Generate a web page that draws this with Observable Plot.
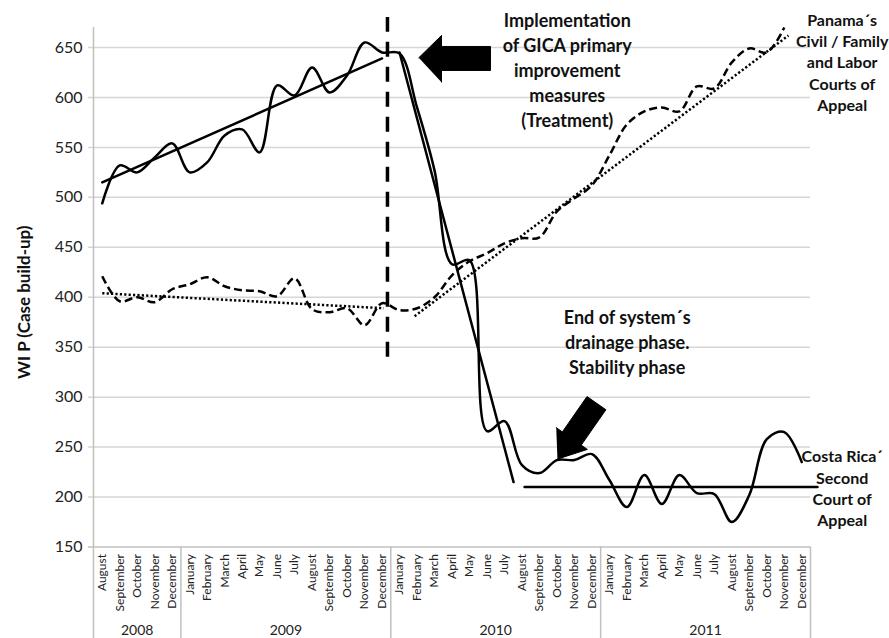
<!DOCTYPE html>
<html><head><meta charset="utf-8">
<script src="https://cdn.jsdelivr.net/npm/d3@7"></script>
<script src="https://cdn.jsdelivr.net/npm/@observablehq/plot@0.6"></script>
<style>body{margin:0;background:#fff;}</style>
</head><body><div id="chart"></div>
<script>
// ---- categories ----
const months = ["August","September","October","November","December",
  "January","February","March","April","May","June","July","August","September","October","November","December",
  "January","February","March","April","May","June","July","August","September","October","November","December",
  "January","February","March","April","May","June","July","August","September","October","November","December"];
const yearLabels = ["2008","2009","2010","2011"];
const yearMonthCounts = [5, 12, 12, 12];
const yTicks = [150,200,250,300,350,400,450,500,550,600,650];

// ---- series (WIP, one value per month from August 2008) ----
const costaRica = [494,532,525,540,554, 525,535,562,568,545,612,602,630,605,622,655,645,
  644,590,527,433,437,266,276,232,224,237,237,243, 217,190,222,193,222,204,203,175,202,258,265,235];
const panama = [421,396,400,395,408, 413,420,411,407,406,401,419,388,385,389,372,394,
  387,389,400,422,436,444,454,459,460,486,499,512, 542,573,586,590,586,611,609,635,649,645,670];

// ---- trend lines (month index, value) ----
const costaTrendPre = {x: [0, 16], y: [515, 639]};
const costaTrendDrain = {x: [17, 23.52], y: [645, 215]};
const costaTrendStable = {x: [24.15, 40.9], y: [210, 210]};
const panamaTrendPre = {x: [0, 16.1], y: [404, 389]};
const panamaTrendPost = {x: [17.86, 39.24], y: [381, 662]};

// ---- annotations ----
const treatmentIndex = 16.31;
const treatmentSpan = [340, 680];
const treatArrow = {x: [18.10, 19.40, 19.40, 22.20, 22.20, 19.40, 19.40], y: [639.7, 662, 651, 651, 627, 627, 615.3]};
const stabArrow = {x: [26.03, 27.74, 27.39, 28.80, 27.72, 26.31, 25.96], y: [238, 247.7, 252, 287.4, 300.6, 265.2, 269.5]};
const notes = [
  {text: "Implementation\nof GICA primary\nimprovement\nmeasures\n(Treatment)", x: 26.59, y: 628.7, size: 18, lh: 1.39},
  {text: "End of system\u00b4s\ndrainage phase.\nStability phase", x: 30.02, y: 356, size: 18, lh: 1.39},
  {text: "Panama\u00b4s\nCivil / Family\nand Labor\nCourts of\nAppeal", x: 42.31, y: 636, size: 16, lh: 1.33},
  {text: "Costa Rica\u00b4\nSecond\nCourt of\nAppeal", x: 42.31, y: 209.5, size: 16, lh: 1.33}
];
const yLabel = "WI P (Case build-up)";

// ---- derived helpers ----
const n = months.length;
const idx = months.map((d, i) => i);
const bounds = [-0.5];
let acc = -0.5;
yearMonthCounts.forEach(c => { acc += c; bounds.push(acc); });
const yearCenters = yearMonthCounts.map((c, i) => (bounds[i] + bounds[i + 1]) / 2);
const toPts = o => o.x.map((x, i) => ({x, y: o.y[i]}));
const tickLen = 5 / (717 / n);
const axisBottom = 58;
const dotted = {stroke: "#000", strokeWidth: 2.5, strokeDasharray: "2.2,2.2", strokeLinecap: "butt"};

const chart = Plot.plot({
  width: 889, height: 638,
  marginLeft: 93, marginRight: 79, marginTop: 27, marginBottom: 91.5,
  x: {domain: [-0.5, n - 0.5], axis: null},
  y: {domain: [150, 670], axis: null},
  style: {fontFamily: "Lato, 'Open Sans', sans-serif", color: "#111", background: "#fff"},
  marks: [
    Plot.ruleY(yTicks.slice(1), {x1: -0.5 - tickLen, x2: n - 0.5, stroke: "#d6d6d6", strokeWidth: 1.5}),
    Plot.ruleY([yTicks[0]], {x1: -0.5 - tickLen, x2: n - 0.5, stroke: "#c0c0c0", strokeWidth: 1.5}),
    Plot.ruleX([-0.5], {y1: axisBottom, y2: 670, stroke: "#c0c0c0", strokeWidth: 1.5}),
    Plot.ruleX(bounds.slice(1), {y1: axisBottom, y2: 150, stroke: "#c0c0c0", strokeWidth: 1.5}),
    Plot.text(yTicks, {x: -0.5, y: d => d, text: d => String(d), textAnchor: "end", dx: -11, fontSize: 16, fill: "#222"}),
    Plot.text(months, {x: idx, y: 150, text: d => d, rotate: -90, textAnchor: "end", dy: 7, fontSize: 12, fill: "#222"}),
    Plot.text(yearLabels, {x: yearCenters, y: 150, text: d => d, dy: 84, fontSize: 14, fill: "#222"}),
    Plot.text([yLabel], {frameAnchor: "left", textAnchor: "middle", dx: -69, dy: 15, rotate: -90, fontWeight: "bold", fontSize: 17, fill: "#111"}),
    // trends
    Plot.line(toPts(panamaTrendPre), {x: "x", y: "y", ...dotted}),
    Plot.line(toPts(panamaTrendPost), {x: "x", y: "y", ...dotted}),
    Plot.line(toPts(costaTrendPre), {x: "x", y: "y", stroke: "#000", strokeWidth: 2.5}),
    Plot.line(toPts(costaTrendDrain), {x: "x", y: "y", stroke: "#000", strokeWidth: 2.5}),
    Plot.line(toPts(costaTrendStable), {x: "x", y: "y", stroke: "#000", strokeWidth: 2.5}),
    // series
    Plot.line(panama, {x: (d, i) => i, y: d => d, curve: "catmull-rom", stroke: "#000", strokeWidth: 2.5, strokeDasharray: "8,4", strokeLinecap: "butt"}),
    Plot.line(costaRica, {x: (d, i) => i, y: d => d, curve: "catmull-rom", stroke: "#000", strokeWidth: 2.5}),
    // treatment marker
    Plot.ruleX([treatmentIndex], {y1: treatmentSpan[0], y2: treatmentSpan[1], stroke: "#000", strokeWidth: 3.5, strokeDasharray: "15,10"}),
    Plot.line(toPts(treatArrow), {x: "x", y: "y", fill: "#000", stroke: "#000", strokeWidth: 1}),
    Plot.line(toPts(stabArrow), {x: "x", y: "y", fill: "#000", stroke: "#000", strokeWidth: 1}),
    ...notes.map(nt => Plot.text([nt], {x: "x", y: "y", text: "text", fontSize: nt.size, lineHeight: nt.lh, fontWeight: "bold", fill: "#111", lineAnchor: "middle"}))
  ]
});
document.getElementById("chart").appendChild(chart);
</script>
</body></html>
